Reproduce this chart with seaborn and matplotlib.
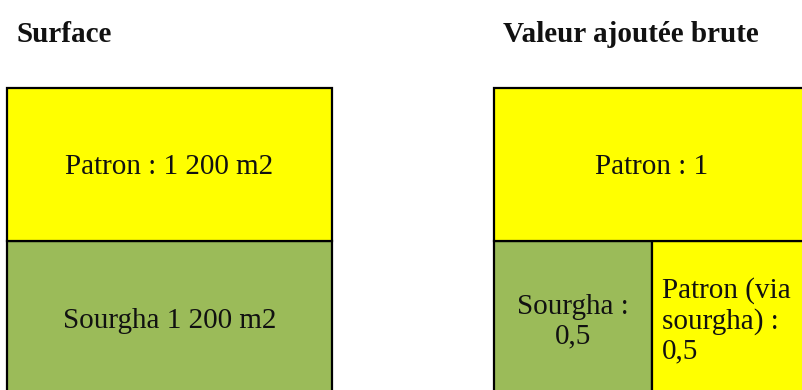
import numpy as np
import pandas as pd
import matplotlib
matplotlib.use("Agg")
import matplotlib.pyplot as plt
import matplotlib.transforms as mtransforms
import seaborn as sns

# ---- data ----
surface_labels = ["Sourgha 1 200 m2", "Patron : 1 200 m2"]
surface_values = [1200, 1200]          # m2, stacked bottom -> top
surface_colors = ["#9BBB59", "#FFFF00"]

va_top_label = "Patron : 1"
va_top_value = 1.0
va_bottom_labels = ["Sourgha :\n0,5", "Patron (via\nsourgha) :\n0,5"]
va_bottom_values = [0.5, 0.5]
va_bottom_colors = ["#9BBB59", "#FFFF00"]
va_top_color = "#FFFF00"

titles = ["Surface", "Valeur ajoutée brute"]

sns.set_theme(style="white")
plt.rcParams["font.family"] = ["Liberation Serif", "DejaVu Serif"]

W, H = 803, 390
fig = plt.figure(figsize=(W / 100, H / 100), dpi=100)
FS = 21
LW = 1.6
LS = 1.17

# ---- left panel: surface ----
axL = fig.add_axes([7 / W, -4 / H, 325 / W, 306 / H])
tL = mtransforms.offset_copy(axL.transData, fig=fig, y=-3, units="dots")
bottoms = np.concatenate([[0], np.cumsum(surface_values)[:-1]])
for lab, v, b, c in zip(surface_labels, surface_values, bottoms, surface_colors):
    axL.bar(0.5, v, bottom=b, width=1.0, color=c, edgecolor="black",
            linewidth=LW, clip_on=False)
    axL.text(0.5, b + v / 2, lab, ha="center", va="center", fontsize=FS,
             color="#111111", transform=tL)
axL.set_xlim(0, 1)
axL.set_ylim(0, sum(surface_values))
axL.set_axis_off()

# ---- right panel: valeur ajoutée brute ----
axR = fig.add_axes([494 / W, -4 / H, 316 / W, 306 / H])
tR = mtransforms.offset_copy(axR.transData, fig=fig, y=-3, units="dots")
lefts = np.concatenate([[0], np.cumsum(va_bottom_values)[:-1]])
for i, (lab, v, l, c) in enumerate(zip(va_bottom_labels, va_bottom_values, lefts, va_bottom_colors)):
    axR.bar(l, 1.0, width=v, bottom=0, align="edge", color=c,
            edgecolor="black", linewidth=LW, clip_on=False)
    if i == 0:
        axR.text(l + v / 2, 0.475, lab, ha="center", va="center", fontsize=FS,
                 color="#111111", linespacing=LS, multialignment="center")
    else:
        axR.text(l + 0.032, 0.478, lab, ha="left", va="center", fontsize=FS,
                 color="#111111", linespacing=LS, multialignment="left")
axR.bar(0, 1.0, width=va_top_value, bottom=1.0, align="edge",
        color=va_top_color, edgecolor="black", linewidth=LW, clip_on=False)
axR.text(va_top_value / 2, 1.5, va_top_label, ha="center", va="center",
         fontsize=FS, color="#111111", transform=tR)
axR.set_xlim(0, 1)
axR.set_ylim(0, 2)
axR.set_axis_off()

# ---- titles ----
fig.text(17 / W, 1 - 42 / H, titles[0], fontsize=FS, fontweight="bold",
         ha="left", va="baseline", color="#111111")
fig.text(503 / W, 1 - 42 / H, titles[1], fontsize=FS, fontweight="bold",
         ha="left", va="baseline", color="#111111")

fig.savefig("out.png", dpi=100)
